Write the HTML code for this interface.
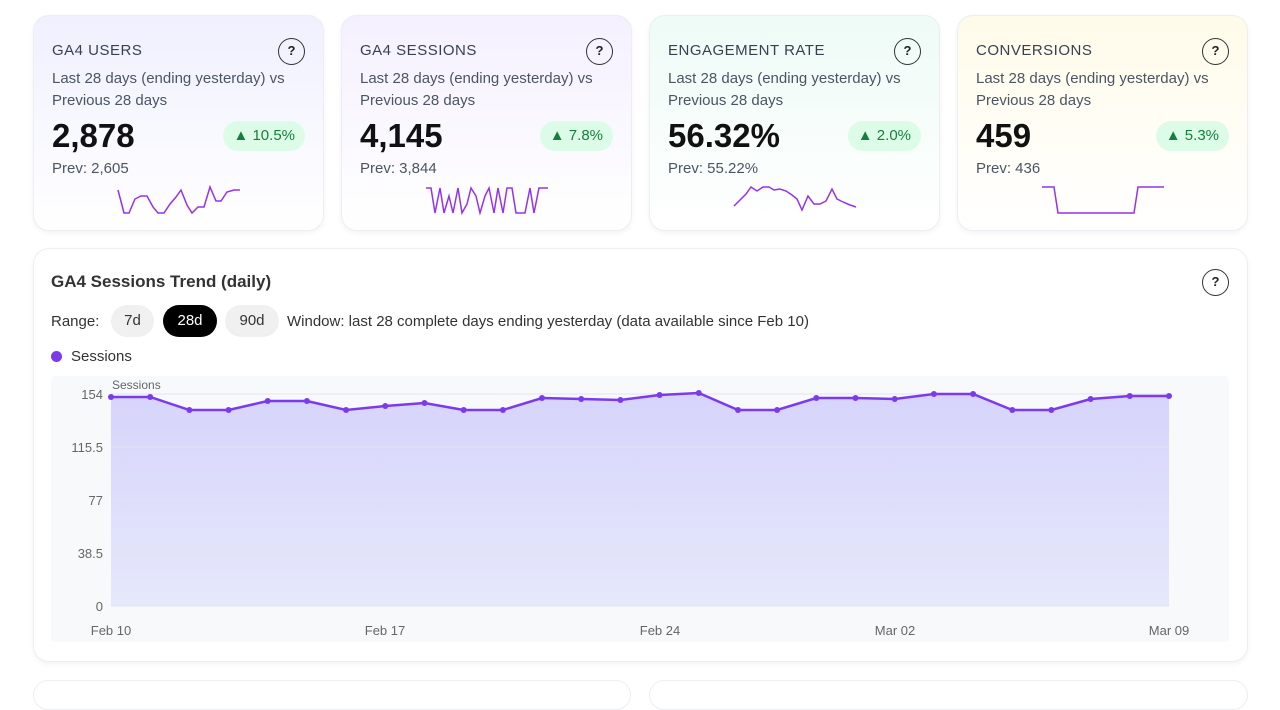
<!DOCTYPE html><html><head><meta charset="utf-8"><style>
*{box-sizing:border-box;margin:0;padding:0}
body{width:1280px;height:686px;overflow:hidden;background:#fff;font-family:"Liberation Sans",Arial,sans-serif;color:#1f2937;position:relative}
.card{position:absolute;top:15px;width:291px;height:216px;border-radius:16px;border:1px solid #eceef2;box-shadow:0 2px 6px rgba(0,0,0,.05)}
.t{position:absolute;left:18px;top:26px;font-size:15px;letter-spacing:.5px;color:#374151}
.q{position:absolute;right:18px;top:22px;width:27px;height:27px;border:1.5px solid #333;border-radius:50%;font-size:13px;font-weight:bold;text-align:center;line-height:24px;color:#222}
.s{position:absolute;left:18px;top:52px;font-size:15px;line-height:22px;color:#4b5563;width:270px}
.v{position:absolute;left:18px;top:101px;font-size:33px;font-weight:bold;color:#111}
.b{position:absolute;right:18px;top:105px;height:30px;padding:0 10px;border-radius:15px;background:#dcfce7;color:#15803d;font-size:15px;line-height:30px}
.p{position:absolute;left:18px;top:144px;font-size:15px;color:#4b5563}
.sp{position:absolute;left:0;top:160px}
.pill{position:absolute;top:305px;height:32px;border-radius:16px;background:#f0f0f0;font-size:15px;line-height:32px;text-align:center;color:#333}
</style></head><body>
<div class="card" style="left:33px;background:linear-gradient(#f0f0ff,#fff)"><div class="t">GA4 USERS</div><div class="q">?</div><div class="s">Last 28 days (ending yesterday) vs Previous 28 days</div><div class="v">2,878</div><div class="b">▲ 10.5%</div><div class="p">Prev: 2,605</div>
<svg class="sp" width="291" height="50"><polyline fill="none" stroke="#9333ea" stroke-width="1.5" points="84,14 90,37 95,37 101,23 107,20 113,20 119,31 124,37 130,37 136,28 142,21 147,14 153,29 158,37 164,31 170,31 176,11 182,25 187,25 193,16 200,14 206,14"/></svg></div>
<div class="card" style="left:341px;background:linear-gradient(#f5f0ff,#fff)"><div class="t">GA4 SESSIONS</div><div class="q">?</div><div class="s">Last 28 days (ending yesterday) vs Previous 28 days</div><div class="v">4,145</div><div class="b">▲ 7.8%</div><div class="p">Prev: 3,844</div>
<svg class="sp" width="291" height="50"><polyline fill="none" stroke="#9333ea" stroke-width="1.5" points="84,12 89,12 93,37 98,12 102,37 107,20 111,37 116,12 120,37 125,28 129,12 134,20 138,37 143,20 147,12 152,37 156,12 161,37 165,12 170,12 174,37 179,37 183,37 188,12 192,37 197,12 201,12 206,12"/></svg></div>
<div class="card" style="left:649px;background:linear-gradient(#eefbf6,#fff)"><div class="t">ENGAGEMENT RATE</div><div class="q">?</div><div class="s">Last 28 days (ending yesterday) vs Previous 28 days</div><div class="v">56.32%</div><div class="b">▲ 2.0%</div><div class="p">Prev: 55.22%</div>
<svg class="sp" width="291" height="50"><polyline fill="none" stroke="#9333ea" stroke-width="1.5" points="84,30 90,24 96,18 101,11 107,15 113,11 119,11 124,14 130,13 136,15 142,19 147,23 152,34 158,20 164,28 170,28 176,25 182,13 187,23 193,26 200,29 206,31"/></svg></div>
<div class="card" style="left:957px;background:linear-gradient(#fffbea,#fff)"><div class="t">CONVERSIONS</div><div class="q">?</div><div class="s">Last 28 days (ending yesterday) vs Previous 28 days</div><div class="v">459</div><div class="b">▲ 5.3%</div><div class="p">Prev: 436</div>
<svg class="sp" width="291" height="50"><polyline fill="none" stroke="#9333ea" stroke-width="1.5" points="84,11 96,11 100,37 176,37 180,11 206,11"/></svg></div>

<div style="position:absolute;left:33px;top:248px;width:1215px;height:414px;border-radius:16px;border:1px solid #eceef2;box-shadow:0 2px 6px rgba(0,0,0,.05)"></div>
<div style="position:absolute;left:51px;top:272px;font-size:17px;font-weight:bold;color:#333">GA4 Sessions Trend (daily)</div>
<div class="q" style="left:1202px;top:269px;right:auto">?</div>
<div style="position:absolute;left:51px;top:313px;font-size:15px;color:#333">Range:</div>
<div class="pill" style="left:111px;width:43px">7d</div>
<div class="pill" style="left:163px;width:54px;background:#000;color:#fff">28d</div>
<div class="pill" style="left:225px;width:54px">90d</div>
<div style="position:absolute;left:287px;top:313px;font-size:15px;color:#333">Window: last 28 complete days ending yesterday (data available since Feb 10)</div>
<div style="position:absolute;left:51px;top:351px;width:11px;height:11px;border-radius:50%;background:#7c3aed"></div>
<div style="position:absolute;left:71px;top:348px;font-size:15px;color:#333">Sessions</div>
<div style="position:absolute;left:51px;top:376px;width:1178px;height:266px;background:#f8f9fb;border-radius:4px"></div>
<svg style="position:absolute;left:0;top:0" width="1280" height="686">
<defs><linearGradient id="g" x1="0" y1="0" x2="0" y2="1"><stop offset="0" stop-color="#d6d4fb"/><stop offset="1" stop-color="#e6e8fb"/></linearGradient></defs>
<g font-family="Liberation Sans,Arial,sans-serif" font-size="13" fill="#666" text-anchor="end">
<text x="103" y="399">154</text><text x="103" y="452">115.5</text><text x="103" y="505">77</text><text x="103" y="558">38.5</text><text x="103" y="611">0</text></g>
<text x="112" y="389" font-family="Liberation Sans,Arial,sans-serif" font-size="12" fill="#666">Sessions</text>
<polygon id="area" fill="url(#g)" points=""/>
<g stroke="#e3e3ee" stroke-width="1"><line x1="111" x2="1169" y1="394" y2="394"/><line x1="111" x2="1169" y1="447" y2="447"/><line x1="111" x2="1169" y1="500" y2="500"/><line x1="111" x2="1169" y1="553" y2="553"/><line x1="111" x2="1169" y1="606" y2="606"/></g>
<g id="ln"></g>
<g font-family="Liberation Sans,Arial,sans-serif" font-size="13" fill="#666" text-anchor="middle">
<text x="111" y="635">Feb 10</text><text x="385" y="635">Feb 17</text><text x="660" y="635">Feb 24</text><text x="895" y="635">Mar 02</text><text x="1169" y="635">Mar 09</text></g>
</svg>
<div style="position:absolute;left:33px;top:680px;width:598px;height:30px;border-radius:16px;border:1px solid #eceef2"></div>
<div style="position:absolute;left:649px;top:680px;width:599px;height:30px;border-radius:16px;border:1px solid #eceef2"></div>
<script>
var ys=[397,397,410,410,401,401,410,406,403,410,410,398,399,400,395,393,410,410,398,398,399,394,394,410,410,399,396,396];
var pts=ys.map(function(y,i){return (111+i*1058/27).toFixed(1)+","+y});
document.getElementById("area").setAttribute("points",pts.join(" ")+" 1169,606 111,606");
var s='<polyline fill="none" stroke="#7c3aed" stroke-width="2.5" points="'+pts.join(" ")+'"/>';
pts.forEach(function(p){var a=p.split(",");s+='<circle cx="'+a[0]+'" cy="'+a[1]+'" r="3" fill="#7c3aed"/>'});
document.getElementById("ln").innerHTML=s;
</script>
</body></html>
